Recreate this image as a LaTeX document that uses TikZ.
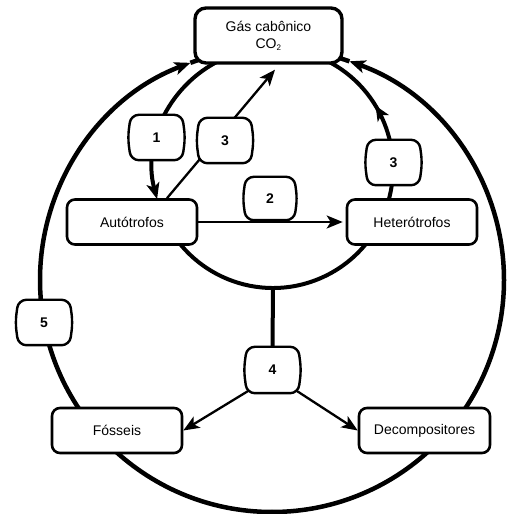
\documentclass[tikz,border=0pt]{standalone}
\usepackage{fontspec}
\setmainfont{Liberation Sans}
\usetikzlibrary{arrows.meta,calc,backgrounds,decorations.markings}
\pgfdeclarelayer{boxes}
\pgfsetlayers{background,boxes,main}
\begin{document}
\begin{tikzpicture}[x=1pt,y=1pt,
  lbl/.style={font=\fontsize{14}{17}\selectfont},
  box/.style={lbl, draw, fill=white, line width=2.6pt, rounded corners=8pt,
    minimum width=130pt, minimum height=45pt, inner sep=0pt},
  numbox/.style={minimum width=51pt, minimum height=45pt, inner sep=0pt,
    font=\fontsize{14}{17}\selectfont\bfseries},
  barrel/.style={draw, fill=white, line width=2.4pt, rounded corners=8pt},
  ring/.style={line width=4.5pt},
  innerring/.style={line width=4pt},
  thinline/.style={line width=2.3pt},
  tip/.style={-{Stealth[length=16pt,width=13pt,inset=4pt]}},
  midtip/.style={postaction={decorate}, decoration={markings,
    mark=at position #1 with {\arrow{Stealth[length=15pt,width=13pt,inset=4pt]}}}},
]
\useasboundingbox (0,0) rectangle (507,514);

% centres of the two cycles
\coordinate (oc) at (272,234);
\coordinate (ic) at (273,346);

% boxes
\node[box, line width=3.4pt, rounded corners=11pt, minimum width=147pt, minimum height=55pt, align=center]
  (co2) at (268.5,478.5) {Gás cabônico\\CO\textsubscript{\fontsize{8}{8}\selectfont 2}};
\node[box] (auto) at (132,292) {Autótrofos};
\node[box] (het) at (412,292) {Heterótrofos};
\node[box] (foss) at (117,83.5) {Fósseis};
\node[box, minimum width=131pt] (deco) at (424.5,83.5) {Decompositores};

% numbered steps
\node[numbox] (n1) at (156.5,376.5) {1};
\node[numbox] (n3a) at (225,373.5) {3};
\node[numbox, minimum width=48pt, minimum height=43pt] (n2) at (270,315.5) {2};
\node[numbox] (n3b) at (393.5,351.5) {3};
\node[numbox] (n5) at (44,191.5) {5};
\node[numbox, minimum height=46pt] (n4) at (272.5,144) {4};

% outlines of the numbered steps, with slightly bowed sides
\begin{pgfonlayer}{boxes}
  \foreach \b in {n1,n3a,n2,n3b,n5,n4}
    \path[barrel] (\b.north west) -- (\b.north east) -- ($(\b.east)+(3,0)$)
      -- (\b.south east) -- (\b.south west) -- ($(\b.west)+(-3,0)$) -- cycle;
\end{pgfonlayer}

\begin{scope}[on background layer]
  % outer cycle: short ends under the CO2 box first, arrowed arcs on top
  \draw[ring] ($(oc)+(110.6:232)$) arc[start angle=110.6, end angle=100, radius=232];
  \draw[ring] ($(oc)+(70.5:232)$) arc[start angle=70.5, end angle=80, radius=232];
  \draw[ring, tip] ($(oc)+(270:232)$) arc[start angle=270, end angle=110.6, radius=232];
  \draw[ring, tip] ($(oc)+(-90:232)$) arc[start angle=-90, end angle=70.5, radius=232];

  % inner cycle
  \draw[innerring, tip] ($(ic)+(110:120)$) arc[start angle=110, end angle=195, radius=120];
  \draw[innerring] ($(ic)+(200:120)$) arc[start angle=200, end angle=340, radius=120];
  \draw[innerring, midtip=0.57] ($(ic)+(-20:120)$) arc[start angle=-20, end angle=70, radius=120];
  \coordinate (ibot) at ($(ic)+(270:120)$);
  \draw[innerring] (ibot) -- (n4.north);

  % straight connectors
  \draw[thinline, tip, shorten >=3pt] (auto.east) -- (het.west);
  \draw[thinline, tip] ($(auto.north)+(35,0)$) -- ($(co2.south)+(6.5,-5)$);
  \draw[thinline, tip] ($(n4.south west)+(1,2)$) -- (foss.east);
  \draw[thinline, tip] ($(n4.south east)+(-1,2)$) -- (deco.west);
\end{scope}
\end{tikzpicture}
\end{document}
